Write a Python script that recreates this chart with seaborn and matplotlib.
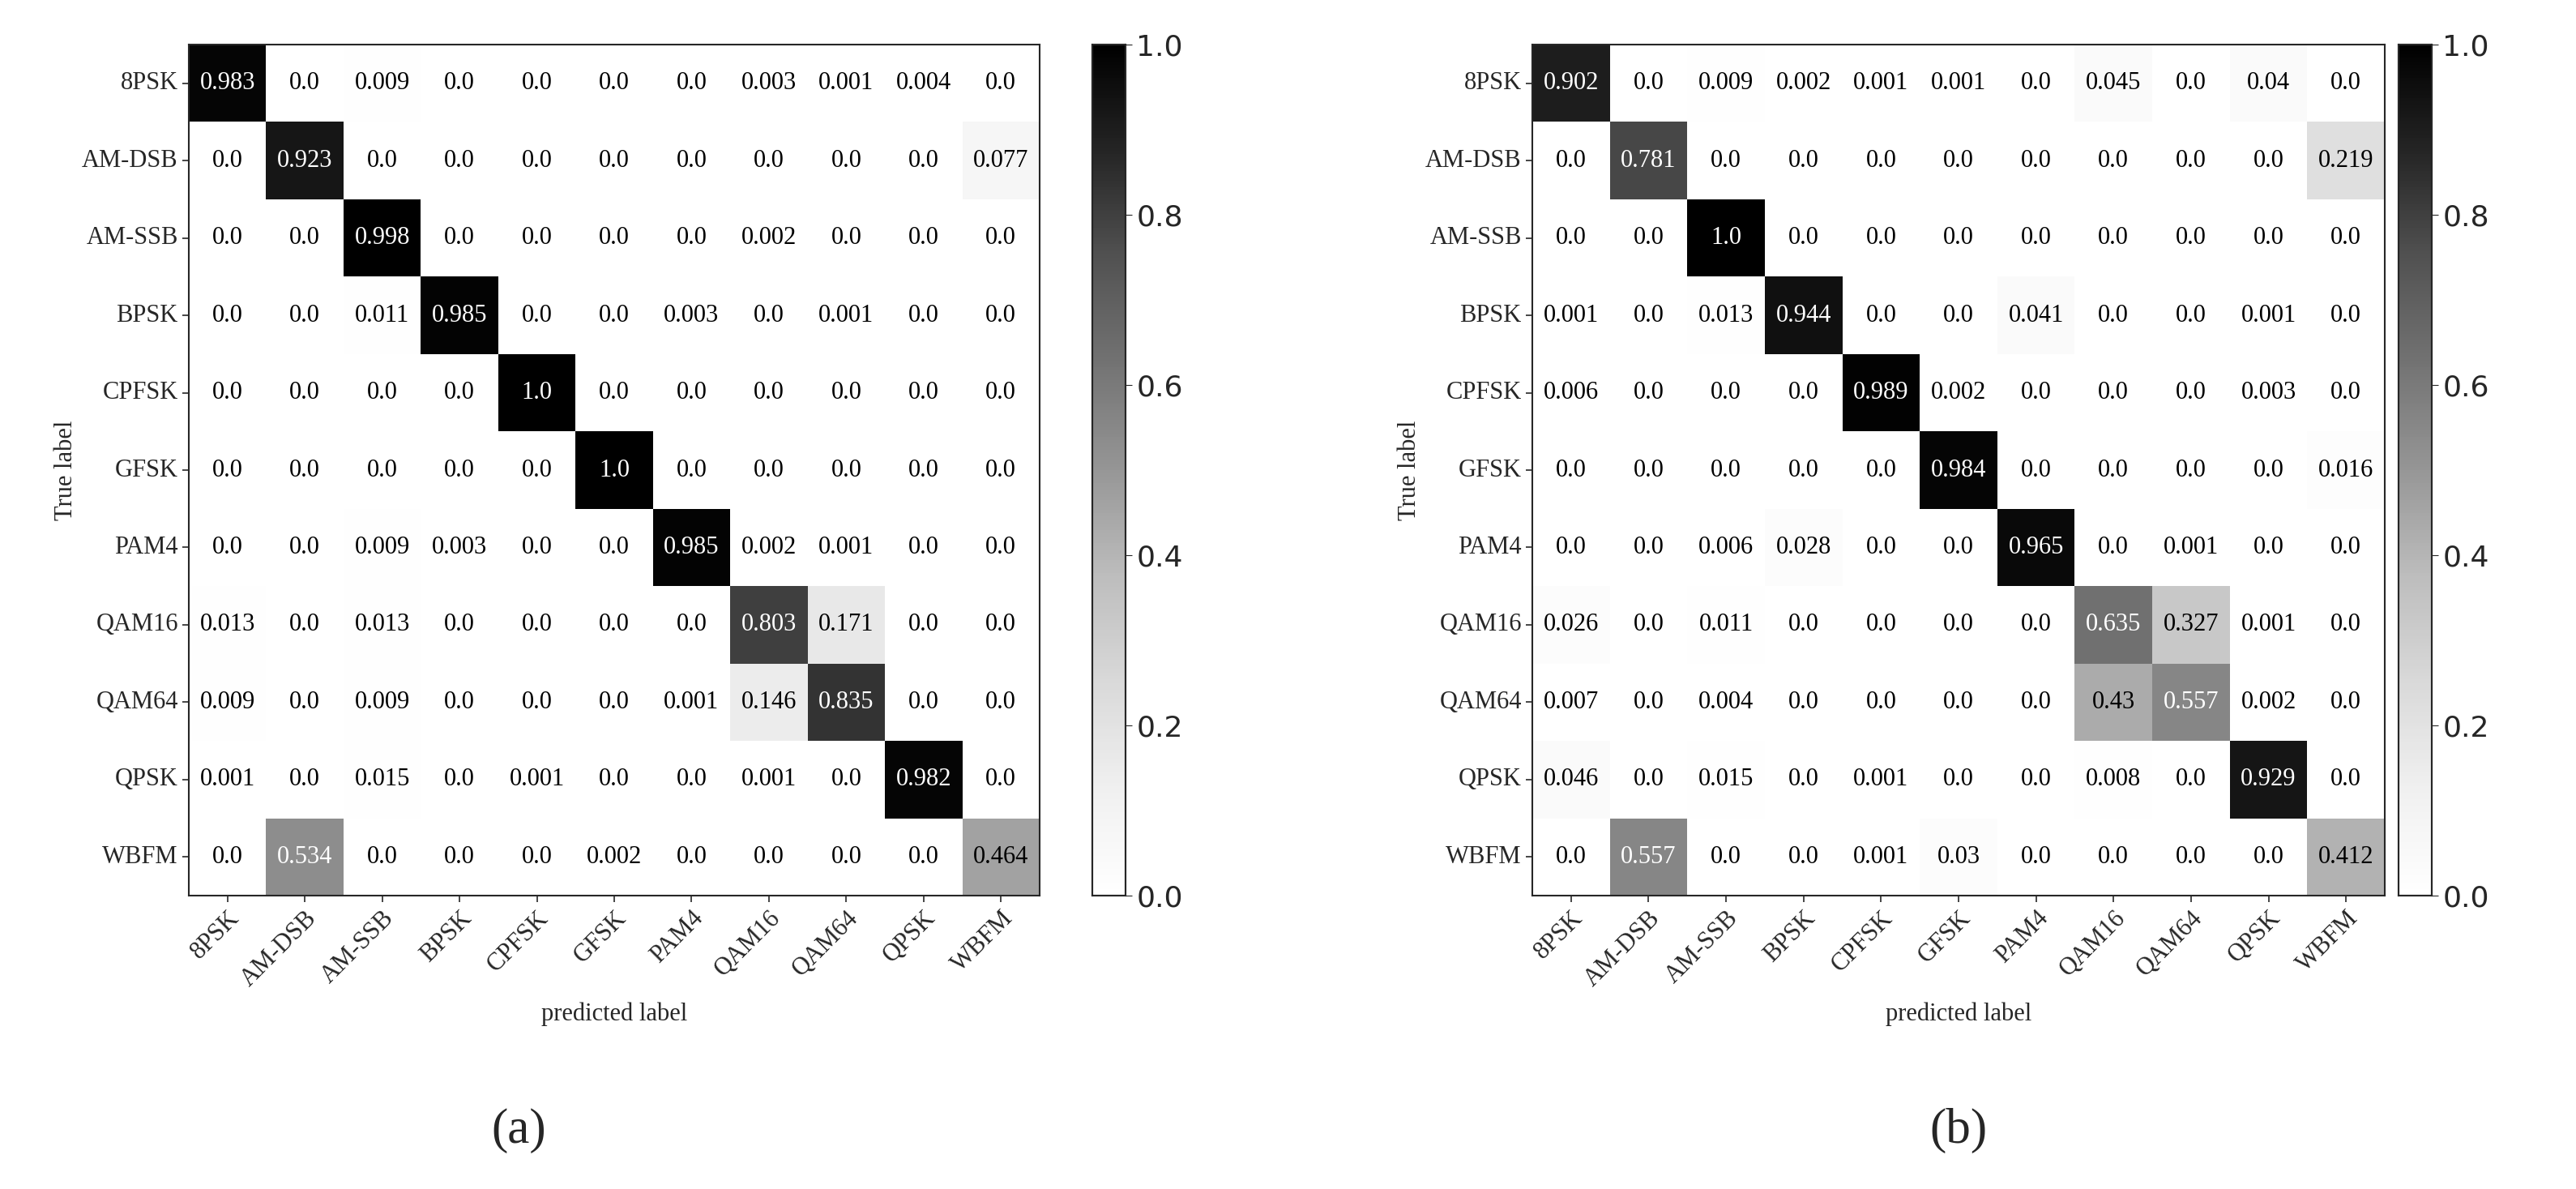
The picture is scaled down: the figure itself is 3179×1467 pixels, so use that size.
import numpy as np
import matplotlib
matplotlib.use("Agg")
import matplotlib.pyplot as plt
import seaborn as sns

labels = ["8PSK", "AM-DSB", "AM-SSB", "BPSK", "CPFSK", "GFSK", "PAM4", "QAM16", "QAM64", "QPSK", "WBFM"]

cm_a = [
    [0.983, 0.0, 0.009, 0.0, 0.0, 0.0, 0.0, 0.003, 0.001, 0.004, 0.0],
    [0.0, 0.923, 0.0, 0.0, 0.0, 0.0, 0.0, 0.0, 0.0, 0.0, 0.077],
    [0.0, 0.0, 0.998, 0.0, 0.0, 0.0, 0.0, 0.002, 0.0, 0.0, 0.0],
    [0.0, 0.0, 0.011, 0.985, 0.0, 0.0, 0.003, 0.0, 0.001, 0.0, 0.0],
    [0.0, 0.0, 0.0, 0.0, 1.0, 0.0, 0.0, 0.0, 0.0, 0.0, 0.0],
    [0.0, 0.0, 0.0, 0.0, 0.0, 1.0, 0.0, 0.0, 0.0, 0.0, 0.0],
    [0.0, 0.0, 0.009, 0.003, 0.0, 0.0, 0.985, 0.002, 0.001, 0.0, 0.0],
    [0.013, 0.0, 0.013, 0.0, 0.0, 0.0, 0.0, 0.803, 0.171, 0.0, 0.0],
    [0.009, 0.0, 0.009, 0.0, 0.0, 0.0, 0.001, 0.146, 0.835, 0.0, 0.0],
    [0.001, 0.0, 0.015, 0.0, 0.001, 0.0, 0.0, 0.001, 0.0, 0.982, 0.0],
    [0.0, 0.534, 0.0, 0.0, 0.0, 0.002, 0.0, 0.0, 0.0, 0.0, 0.464],
]

cm_b = [
    [0.902, 0.0, 0.009, 0.002, 0.001, 0.001, 0.0, 0.045, 0.0, 0.04, 0.0],
    [0.0, 0.781, 0.0, 0.0, 0.0, 0.0, 0.0, 0.0, 0.0, 0.0, 0.219],
    [0.0, 0.0, 1.0, 0.0, 0.0, 0.0, 0.0, 0.0, 0.0, 0.0, 0.0],
    [0.001, 0.0, 0.013, 0.944, 0.0, 0.0, 0.041, 0.0, 0.0, 0.001, 0.0],
    [0.006, 0.0, 0.0, 0.0, 0.989, 0.002, 0.0, 0.0, 0.0, 0.003, 0.0],
    [0.0, 0.0, 0.0, 0.0, 0.0, 0.984, 0.0, 0.0, 0.0, 0.0, 0.016],
    [0.0, 0.0, 0.006, 0.028, 0.0, 0.0, 0.965, 0.0, 0.001, 0.0, 0.0],
    [0.026, 0.0, 0.011, 0.0, 0.0, 0.0, 0.0, 0.635, 0.327, 0.001, 0.0],
    [0.007, 0.0, 0.004, 0.0, 0.0, 0.0, 0.0, 0.43, 0.557, 0.002, 0.0],
    [0.046, 0.0, 0.015, 0.0, 0.001, 0.0, 0.0, 0.008, 0.0, 0.929, 0.0],
    [0.0, 0.557, 0.0, 0.0, 0.001, 0.03, 0.0, 0.0, 0.0, 0.0, 0.412],
]

sub_labels = ["(a)", "(b)"]

sns.set_style("white")
serif = ["Liberation Serif", "DejaVu Serif"]
fig = plt.figure(figsize=(31.79, 14.67), dpi=100)
W, H = 3179, 1467
specs = [((233, 55, 1050, 1050), (1348, 55, 41, 1050), 640),
         ((1891, 55, 1052, 1050), (2960, 55, 41, 1050), 2417)]

for cm, (axr, cbr, lx), sl in zip([cm_a, cm_b], specs, sub_labels):
    ax = fig.add_axes([axr[0]/W, 1-(axr[1]+axr[3])/H, axr[2]/W, axr[3]/H])
    cax = fig.add_axes([cbr[0]/W, 1-(cbr[1]+cbr[3])/H, cbr[2]/W, cbr[3]/H])
    arr = np.array(cm)
    annot = np.array([[str(v) for v in row] for row in cm])
    sns.heatmap(arr, ax=ax, cbar_ax=cax, cmap="Greys", vmin=0, vmax=1,
                annot=annot, fmt="", annot_kws={"fontsize": 22, "family": serif},
                xticklabels=labels, yticklabels=labels, square=False)
    for t, v in zip(ax.texts, arr.flatten()):
        t.set_color("white" if v > 0.5 else "black")
    ax.tick_params(axis="both", length=6, width=1.2, labelsize=22, left=True, bottom=True)
    for l in ax.get_xticklabels():
        l.set_family(serif); l.set_rotation(45); l.set_ha("right"); l.set_rotation_mode("anchor")
    for l in ax.get_yticklabels():
        l.set_family(serif); l.set_rotation(0)
    ax.set_xlabel("predicted label", fontsize=22, family=serif, labelpad=10)
    ax.set_ylabel("True label", fontsize=22, family=serif)
    for s in ax.spines.values():
        s.set_visible(True); s.set_linewidth(1.5)
    cax.tick_params(labelsize=26, length=6)
    for s in cax.spines.values():
        s.set_visible(True); s.set_linewidth(1.5)
    cax.set_yticks([0, 0.2, 0.4, 0.6, 0.8, 1.0])
    cax.set_yticklabels(["0.0", "0.2", "0.4", "0.6", "0.8", "1.0"])
    fig.text(lx/W, 1-1395/H, sl, fontsize=44, family=serif, ha="center", va="center")

fig.savefig("out.png", dpi=100)
